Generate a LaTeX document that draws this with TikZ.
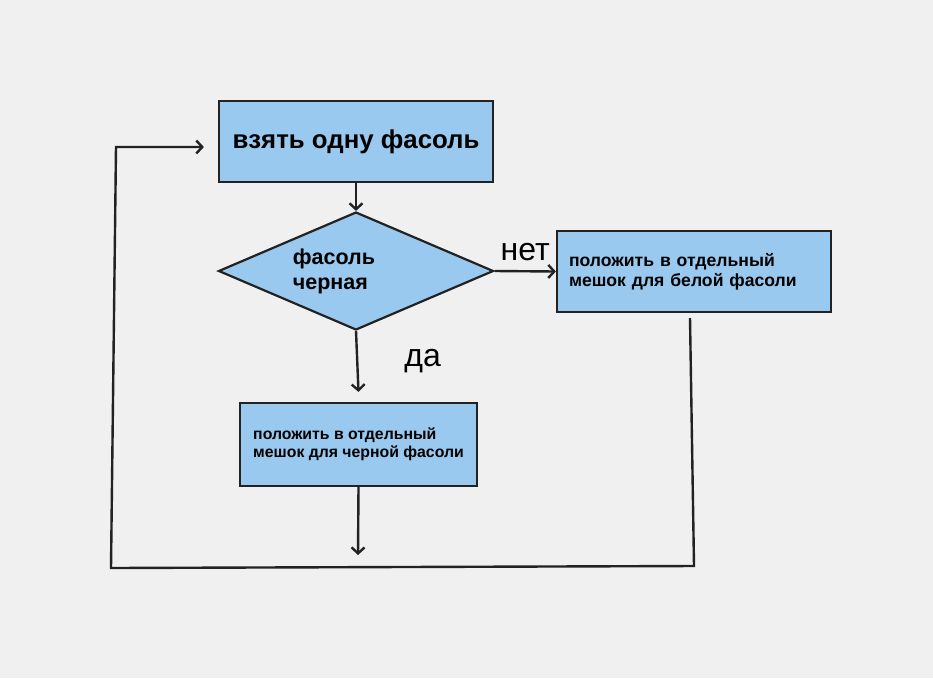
\documentclass[tikz,border=0pt]{standalone}
\usepackage{fontspec}
\setmainfont{Liberation Sans}
\usepackage{tikz}
\usetikzlibrary{shapes.geometric, arrows.meta, positioning}

\definecolor{bgray}{HTML}{F0F0F0}
\definecolor{boxblue}{HTML}{99C9EF}
\definecolor{inkdark}{HTML}{222222}

\begin{document}
\begin{tikzpicture}[x=1pt, y=-1pt,
    box/.style={draw=inkdark, fill=boxblue, line width=2.2pt, rectangle},
    smallbox/.style={box, align=left, font=\bfseries\fontsize{17.6}{20}\selectfont},
    arr/.style={draw=inkdark, line width=2.4pt, -{Straight Barb[length=6pt, width=13pt]}},
    lbl/.style={inner sep=0pt, font=\fontsize{32}{36}\selectfont}]

    \fill[bgray] (0,0) rectangle (933,678);

    \node (take) [box, minimum width=274pt, minimum height=81pt,
        font=\bfseries\fontsize{25.8}{30}\selectfont] at (356,141.5) {взять одну фасоль};
    \node (isblack) [draw=inkdark, fill=boxblue, line width=2.2pt, diamond,
        minimum width=275pt, minimum height=118pt, inner sep=0pt] at (356,271) {};
    \node (qtext) [align=left, inner sep=0pt, font=\bfseries\fontsize{21.5}{25}\selectfont]
        at (334,271) {фасоль\\черная};
    \node (white) [smallbox, text width=250pt, inner xsep=12pt, minimum height=81pt] at (694,271.5)
        {положить в отдельный\\мешок для белой фасоли};
    \node (black) [smallbox, minimum width=237pt, minimum height=83pt,
        font=\bfseries\fontsize{15.8}{17.5}\selectfont] at (358.5,444.5)
        {положить в отдельный\\мешок для черной фасоли};

    % loop back
    \coordinate (out) at (358,555);
    \coordinate (c1) at (690,318);
    \coordinate (c2) at (694,566);
    \coordinate (c3) at (111,568);
    \coordinate (c4) at (116,147);
    \coordinate (c5) at ([xshift=-14pt, yshift=-5.5pt]take.west);

    \draw[arr] (take.south) -- (isblack.north);
    \draw[arr] (isblack.east) -- node[lbl, above=9pt] (no) {нет} (white.west);
    \draw[arr] (isblack.south) -- node[lbl, right=46pt] (yes) {да} ([yshift=10pt]black.north);
    \draw[arr] (black.south) -- (out);
    \draw[arr] (c1) -- (c2) -- (c3) -- (c4) -- (c5);
\end{tikzpicture}
\end{document}
